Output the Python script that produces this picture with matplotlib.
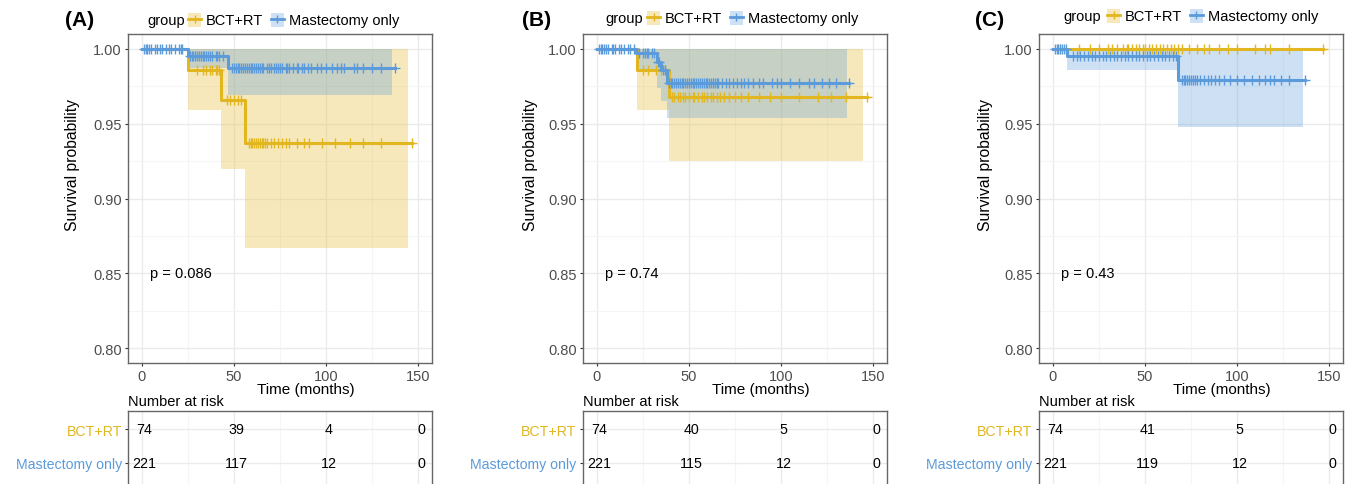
import numpy as np
import matplotlib
matplotlib.use('Agg')
import matplotlib.pyplot as plt
from matplotlib.patches import Patch
from matplotlib.lines import Line2D

plt.rcParams['font.family'] = ['Liberation Sans', 'DejaVu Sans']

W, H = 1357, 485
YEL = '#E2B61E'
BLU = '#5B9BDB'

groups = ['BCT+RT', 'Mastectomy only']
panel_labels = ['(A)', '(B)', '(C)']
pvals = ['p = 0.086', 'p = 0.74', 'p = 0.43']
risk_times = [0, 50, 100, 150]

# ---- panel A ----
bct_A_t = [0, 25, 43, 56]
bct_A_s = [1.0, 0.986, 0.966, 0.937]
bct_A_lo = [1.0, 0.959, 0.920, 0.867]
bct_A_end, bct_A_ci_end = 146.5, 144.5
bct_A_cens = [30, 33, 35, 37, 38, 40, 41, 42, 46, 48, 50, 52, 54,
              58, 59, 60, 61, 62, 63, 64, 65, 66, 67, 68, 70, 72, 74, 76,
              78, 80, 84, 88, 91, 98, 105, 113, 120, 130, 146.5]
mast_A_t = [0, 25, 47]
mast_A_s = [1.0, 0.9955, 0.987]
mast_A_lo = [1.0, 0.987, 0.969]
mast_A_end, mast_A_ci_end = 137.5, 136
mast_A_cens = [1, 2, 3, 4, 5, 7, 8, 10, 11, 13, 15, 16, 18, 20, 21, 22,
               26, 27, 28, 29, 30, 31, 32, 33, 34, 35, 36, 37, 38, 40, 41, 42, 44,
               49, 50, 51, 52, 53, 54, 55, 56, 57, 58, 59, 60, 61, 62, 63, 64,
               65, 66, 68, 69, 70, 72, 73, 74, 75, 76, 78, 79, 80, 82, 84, 85,
               87, 88, 90, 92, 95, 97, 100, 103, 106, 108, 110, 115, 117, 120,
               125, 130, 137.5]
risk_A = [[74, 39, 4, 0], [221, 117, 12, 0]]

# ---- panel B ----
bct_B_t = [0, 22, 39]
bct_B_s = [1.0, 0.986, 0.968]
bct_B_lo = [1.0, 0.959, 0.925]
bct_B_end, bct_B_ci_end = 146.4, 144.5
bct_B_cens = [25, 28, 32, 35, 37, 41, 42, 44, 45, 47, 48, 50, 52, 53, 55, 57,
              58, 60, 62, 63, 65, 67, 69, 72, 75, 78, 82, 88, 94, 100, 110,
              120, 127, 135, 146.4]
mast_B_t = [0, 21.5, 32.5, 35, 38]
mast_B_s = [1.0, 0.997, 0.991, 0.986, 0.977]
mast_B_lo = [1.0, 0.986, 0.974, 0.965, 0.954]
mast_B_end, mast_B_ci_end = 137, 136
mast_B_cens = [1, 2, 3, 4, 5, 6, 8, 9, 10, 12, 13, 15, 17, 18, 20,
               23, 25, 26, 27, 28, 30, 31, 33, 34, 36, 37,
               39, 40, 41, 42, 43, 44, 45, 46, 47, 48, 49, 50, 51, 52, 53, 54,
               55, 56, 57, 58, 59, 60, 61, 62, 63, 64, 65, 66, 68, 70, 72, 74,
               76, 78, 80, 82, 85, 88, 90, 95, 98, 100, 105, 110, 115, 118,
               122, 126, 130, 137]
risk_B = [[74, 40, 5, 0], [221, 115, 12, 0]]

# ---- panel C ----
bct_C_t = [0]
bct_C_s = [1.0]
bct_C_lo = [1.0]
bct_C_end, bct_C_ci_end = 146.6, 146.6
bct_C_cens = [4, 14, 20, 25, 30, 32, 35, 38, 40, 41, 43, 45, 47, 49, 50, 52,
              54, 56, 58, 60, 62, 64, 66, 68, 70, 74, 78, 82, 85, 90, 95, 100,
              110, 115, 118, 128, 146.6]
mast_C_t = [0, 7.6, 68.2]
mast_C_s = [1.0, 0.9955, 0.9795]
mast_C_lo = [1.0, 0.986, 0.948]
mast_C_end, mast_C_ci_end = 137, 136
mast_C_cens = [1, 2, 3, 4, 5, 6, 7,
               11, 13, 15, 17, 19, 21, 23, 25, 27, 29, 31, 33, 35, 37, 39,
               41, 43, 45, 47, 49, 51, 53, 55, 57, 59, 61, 63, 65, 67,
               70, 71, 72, 73, 74, 75, 76, 77, 78, 80, 82, 84, 86, 88, 90,
               93, 96, 100, 104, 108, 112, 115, 118, 120, 124, 128, 137]
risk_C = [[74, 41, 5, 0], [221, 119, 12, 0]]

panels = [
    dict(bct=(bct_A_t, bct_A_s, bct_A_lo, bct_A_end, bct_A_ci_end, bct_A_cens),
         mast=(mast_A_t, mast_A_s, mast_A_lo, mast_A_end, mast_A_ci_end, mast_A_cens),
         risk=risk_A),
    dict(bct=(bct_B_t, bct_B_s, bct_B_lo, bct_B_end, bct_B_ci_end, bct_B_cens),
         mast=(mast_B_t, mast_B_s, mast_B_lo, mast_B_end, mast_B_ci_end, mast_B_cens),
         risk=risk_B),
    dict(bct=(bct_C_t, bct_C_s, bct_C_lo, bct_C_end, bct_C_ci_end, bct_C_cens),
         mast=(mast_C_t, mast_C_s, mast_C_lo, mast_C_end, mast_C_ci_end, mast_C_cens),
         risk=risk_C),
]

# pixel layout: left edge of each panel's axes
ax_left = [128, 583, 1039]
ax_w = 304
legend_group_x = [147, 605, 1063]
legend_key_x = [188, 647, 1107]
legend_y = [21, 19, 17]
label_x = [65, 522, 975]
ylab_x = [72, 530, 985]
xlab_x = [306, 761, 1222]

GRID = '#EBEBEB'
GRID_MIN = '#F5F5F5'
TICKC = '#4D4D4D'


def fx(px):
    return px / W


def fy(py):
    return 1 - py / H


def draw_curve(ax, data, color):
    t, s, lo, end, ci_end, cens = data
    x = list(t) + [end]
    y = list(s) + [s[-1]]
    xc = list(t) + [ci_end]
    lc = list(lo) + [lo[-1]]
    ax.fill_between(xc, lc, [1.0] * len(xc), step='post', color=color,
                    alpha=0.3, lw=0)
    ax.step(x, y, where='post', color=color, lw=2.2)
    idx = np.searchsorted(t, cens, side='right') - 1
    ax.plot(cens, np.array(s)[idx], ls='none', marker='+', ms=7,
            mew=1.0, color=color)


fig = plt.figure(figsize=(W / 100, H / 100), dpi=100)

for i, p in enumerate(panels):
    ax = fig.add_axes([fx(ax_left[i]), fy(364), ax_w / W, (364 - 35) / H])
    draw_curve(ax, p['bct'], YEL)
    draw_curve(ax, p['mast'], BLU)
    ax.set_xlim(-7.5, 157.5)
    ax.set_ylim(0.79, 1.01)
    ax.set_xticks([0, 50, 100, 150])
    ax.set_xticks([25, 75, 125], minor=True)
    ax.set_yticks([0.80, 0.85, 0.90, 0.95, 1.00])
    ax.set_yticks([0.825, 0.875, 0.925, 0.975], minor=True)
    ax.set_yticklabels(['0.80', '0.85', '0.90', '0.95', '1.00'])
    ax.grid(True, which='major', color=GRID, lw=1.0)
    ax.grid(True, which='minor', color=GRID_MIN, lw=0.8)
    ax.set_axisbelow(True)
    ax.tick_params(which='major', length=2.5, width=0.8, color='#333333',
                   labelsize=10.5, labelcolor=TICKC, pad=2)
    ax.tick_params(which='minor', length=0)
    for sp in ax.spines.values():
        sp.set_color('#666666')
        sp.set_linewidth(1.0)
    ax.text(4.5, 0.85, pvals[i], fontsize=10.5, va='center', ha='left')

    fig.text(fx(ylab_x[i]), fy(165), 'Survival probability', rotation=90,
             fontsize=11.3, ha='center', va='center')
    fig.text(fx(xlab_x[i]), fy(390), 'Time (months)', fontsize=11,
             ha='center', va='center')
    fig.text(fx(label_x[i]), fy(21), panel_labels[i], fontsize=15,
             fontweight='bold', ha='left', va='center')

    # legend
    fig.text(fx(legend_group_x[i]), fy(legend_y[i]), 'group', fontsize=10.5,
             ha='left', va='center')
    handles = [(Patch(facecolor=c, alpha=0.3, lw=0),
                Line2D([], [], color=c, lw=2, marker='+', ms=6))
               for c in (YEL, BLU)]
    fig.legend(handles, groups, loc='center left',
               bbox_to_anchor=(fx(legend_key_x[i]), fy(legend_y[i])),
               ncol=2, frameon=False, fontsize=10.5, handlelength=0.9,
               handleheight=1.1, handletextpad=0.35, columnspacing=0.5,
               borderpad=0, borderaxespad=0)

    # risk table
    tb = fig.add_axes([fx(ax_left[i]), fy(490), ax_w / W, (490 - 412) / H])
    tb.set_xlim(-7.5, 157.5)
    tb.set_ylim(0.235, 2.53)
    tb.set_xticks([0, 50, 100, 150])
    tb.set_xticks([25, 75, 125], minor=True)
    tb.set_yticks([2, 1])
    tb.set_yticklabels(groups, fontsize=10.2)
    for lbl, c in zip(tb.get_yticklabels(), (YEL, BLU)):
        lbl.set_color(c)
    tb.tick_params(axis='x', which='both', length=0, labelbottom=False)
    tb.tick_params(axis='y', length=2.5, width=0.8, color='#333333', pad=2)
    tb.grid(True, which='major', color=GRID, lw=1.0)
    tb.grid(True, which='minor', axis='x', color=GRID_MIN, lw=0.8)
    tb.set_axisbelow(True)
    for sp in tb.spines.values():
        sp.set_color('#666666')
        sp.set_linewidth(1.0)
    for row, yv in zip(p['risk'], (2, 1)):
        for tx, n in zip(risk_times, row):
            tb.text(tx + 1.5, yv, str(n), ha='center', va='center', fontsize=10.3)
    fig.text(fx(ax_left[i]), fy(402), 'Number at risk', fontsize=10.5,
             ha='left', va='center')

fig.savefig('out.png', dpi=100)
